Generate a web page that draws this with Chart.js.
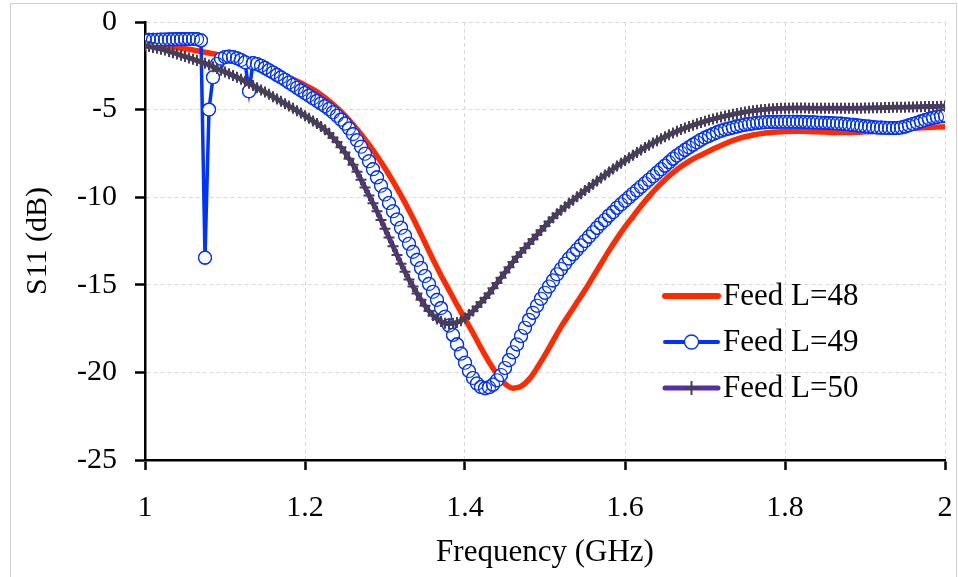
<!DOCTYPE html>
<html>
<head>
<meta charset="utf-8">
<script src="https://cdn.jsdelivr.net/npm/chart.js@4.4.1/dist/chart.umd.min.js"></script>
<style>
html,body{margin:0;padding:0;background:#fff;overflow:hidden}
#wrap{position:relative;width:958px;height:577px}
</style>
</head>
<body>
<div id="wrap"><canvas id="c" width="958" height="577"></canvas></div>
<script>
// ---- data ----
const freqFine = [
1,1.005,1.01,1.015,1.02,1.025,1.03,1.035,1.04,1.045,
1.05,1.055,1.06,1.065,1.07,1.075,1.08,1.085,1.09,1.095,
1.1,1.105,1.11,1.115,1.12,1.125,1.13,1.135,1.14,1.145,
1.15,1.155,1.16,1.165,1.17,1.175,1.18,1.185,1.19,1.195,
1.2,1.205,1.21,1.215,1.22,1.225,1.23,1.235,1.24,1.245,
1.25,1.255,1.26,1.265,1.27,1.275,1.28,1.285,1.29,1.295,
1.3,1.305,1.31,1.315,1.32,1.325,1.33,1.335,1.34,1.345,
1.35,1.355,1.36,1.365,1.37,1.375,1.38,1.385,1.39,1.395,
1.4,1.405,1.41,1.415,1.42,1.425,1.43,1.435,1.44,1.445,
1.45,1.455,1.46,1.465,1.47,1.475,1.48,1.485,1.49,1.495,
1.5,1.505,1.51,1.515,1.52,1.525,1.53,1.535,1.54,1.545,
1.55,1.555,1.56,1.565,1.57,1.575,1.58,1.585,1.59,1.595,
1.6,1.605,1.61,1.615,1.62,1.625,1.63,1.635,1.64,1.645,
1.65,1.655,1.66,1.665,1.67,1.675,1.68,1.685,1.69,1.695,
1.7,1.705,1.71,1.715,1.72,1.725,1.73,1.735,1.74,1.745,
1.75,1.755,1.76,1.765,1.77,1.775,1.78,1.785,1.79,1.795,
1.8,1.805,1.81,1.815,1.82,1.825,1.83,1.835,1.84,1.845,
1.85,1.855,1.86,1.865,1.87,1.875,1.88,1.885,1.89,1.895,
1.9,1.905,1.91,1.915,1.92,1.925,1.93,1.935,1.94,1.945,
1.95,1.955,1.96,1.965,1.97,1.975,1.98,1.985,1.99,1.995,
2];

const freqCoarse = [
1,1.01,1.02,1.03,1.04,1.05,1.06,1.07,1.08,1.09,
1.1,1.11,1.12,1.13,1.14,1.15,1.16,1.17,1.18,1.19,
1.2,1.21,1.22,1.23,1.24,1.25,1.26,1.27,1.28,1.29,
1.3,1.31,1.32,1.33,1.34,1.35,1.36,1.37,1.38,1.39,
1.4,1.41,1.42,1.43,1.44,1.45,1.46,1.47,1.48,1.49,
1.5,1.51,1.52,1.53,1.54,1.55,1.56,1.57,1.58,1.59,
1.6,1.61,1.62,1.63,1.64,1.65,1.66,1.67,1.68,1.69,
1.7,1.71,1.72,1.73,1.74,1.75,1.76,1.77,1.78,1.79,
1.8,1.81,1.82,1.83,1.84,1.85,1.86,1.87,1.88,1.89,
1.9,1.91,1.92,1.93,1.94,1.95,1.96,1.97,1.98,1.99,
2];

// Feed L=48 (on freqCoarse)
const s11L48 = [
-1.25,-1.3,-1.35,-1.4,-1.46,-1.52,-1.6,-1.68,-1.77,-1.86,
-1.96,-2.06,-2.17,-2.3,-2.44,-2.6,-2.78,-2.97,-3.17,-3.38,
-3.6,-3.85,-4.15,-4.5,-4.9,-5.35,-5.85,-6.4,-7.0,-7.65,
-8.35,-9.1,-9.9,-10.75,-11.65,-12.6,-13.55,-14.45,-15.3,-16.15,
-16.95,-17.75,-18.6,-19.4,-20.1,-20.65,-20.9,-20.8,-20.4,-19.75,
-19.0,-18.2,-17.4,-16.7,-16.0,-15.3,-14.55,-13.8,-13.05,-12.35,
-11.7,-11.1,-10.5,-9.95,-9.45,-9.0,-8.6,-8.25,-7.95,-7.7,
-7.48,-7.25,-7.05,-6.85,-6.68,-6.55,-6.45,-6.37,-6.32,-6.28,
-6.25,-6.24,-6.24,-6.25,-6.27,-6.28,-6.3,-6.3,-6.3,-6.29,
-6.27,-6.25,-6.22,-6.18,-6.14,-6.1,-6.07,-6.04,-6.02,-6.0,
-5.98];

// Feed L=49 (on freqFine)
const s11L49 = [
-1.02,-1.02,-1.01,-1.01,-1.0,-1.0,-0.99,-0.99,-0.98,-0.98,
-0.97,-0.97,-0.97,-0.98,-1.05,-13.45,-5.0,-3.15,-2.4,-2.1,
-2.0,-1.97,-2.0,-2.07,-2.17,-2.3,-3.95,-2.35,-2.4,-2.5,
-2.62,-2.75,-2.88,-3.02,-3.16,-3.3,-3.45,-3.6,-3.75,-3.9,
-4.05,-4.2,-4.35,-4.5,-4.65,-4.8,-4.97,-5.15,-5.35,-5.57,
-5.8,-6.08,-6.4,-6.75,-7.12,-7.52,-7.95,-8.4,-8.87,-9.35,
-9.85,-10.33,-10.8,-11.27,-11.74,-12.2,-12.66,-13.12,-13.58,-14.04,
-14.5,-14.95,-15.4,-15.86,-16.33,-16.82,-17.33,-17.86,-18.4,-18.93,
-19.45,-19.92,-20.32,-20.63,-20.83,-20.9,-20.85,-20.7,-20.45,-20.15,
-19.75,-19.3,-18.85,-18.4,-17.92,-17.45,-17.0,-16.6,-16.2,-15.8,
-15.45,-15.1,-14.75,-14.4,-14.1,-13.8,-13.5,-13.25,-13.0,-12.75,
-12.5,-12.25,-12.0,-11.75,-11.5,-11.3,-11.05,-10.85,-10.6,-10.4,
-10.2,-10.0,-9.8,-9.6,-9.4,-9.2,-9.0,-8.8,-8.6,-8.4,
-8.2,-8.0,-7.8,-7.62,-7.46,-7.3,-7.15,-7.0,-6.86,-6.72,
-6.6,-6.5,-6.4,-6.3,-6.21,-6.14,-6.08,-6.02,-5.96,-5.91,
-5.86,-5.82,-5.79,-5.76,-5.74,-5.72,-5.71,-5.7,-5.7,-5.69,
-5.69,-5.69,-5.69,-5.7,-5.7,-5.71,-5.72,-5.73,-5.74,-5.75,
-5.76,-5.77,-5.78,-5.79,-5.8,-5.82,-5.85,-5.87,-5.9,-5.92,
-5.95,-5.97,-6.0,-6.02,-6.03,-6.04,-6.05,-6.05,-6.05,-6.02,
-5.97,-5.9,-5.82,-5.75,-5.67,-5.6,-5.53,-5.47,-5.42,-5.38,
-5.35];

// Feed L=50 (on freqFine)
const s11L50 = [
-1.35,-1.4,-1.45,-1.5,-1.55,-1.6,-1.68,-1.75,-1.82,-1.9,
-1.97,-2.05,-2.12,-2.2,-2.28,-2.36,-2.45,-2.55,-2.65,-2.75,
-2.85,-2.95,-3.05,-3.15,-3.27,-3.38,-3.5,-3.62,-3.75,-3.88,
-4.0,-4.13,-4.26,-4.4,-4.53,-4.66,-4.8,-4.93,-5.06,-5.2,
-5.35,-5.5,-5.65,-5.8,-5.97,-6.15,-6.35,-6.6,-6.85,-7.15,
-7.45,-7.8,-8.15,-8.55,-9.0,-9.45,-9.9,-10.35,-10.8,-11.3,
-11.8,-12.3,-12.8,-13.3,-13.8,-14.25,-14.7,-15.1,-15.5,-15.85,
-16.2,-16.5,-16.75,-16.95,-17.1,-17.2,-17.22,-17.2,-17.15,-17.05,
-16.9,-16.7,-16.5,-16.25,-16.0,-15.75,-15.5,-15.2,-14.9,-14.6,
-14.3,-14.0,-13.7,-13.4,-13.15,-12.9,-12.65,-12.4,-12.15,-11.9,
-11.65,-11.4,-11.17,-10.95,-10.75,-10.55,-10.35,-10.17,-9.98,-9.8,
-9.62,-9.44,-9.26,-9.08,-8.9,-8.73,-8.56,-8.39,-8.22,-8.06,
-7.9,-7.75,-7.6,-7.45,-7.3,-7.16,-7.03,-6.9,-6.78,-6.66,
-6.55,-6.44,-6.34,-6.24,-6.14,-6.05,-5.97,-5.89,-5.81,-5.74,
-5.67,-5.6,-5.54,-5.48,-5.42,-5.37,-5.32,-5.27,-5.22,-5.18,
-5.14,-5.1,-5.07,-5.04,-5.01,-4.99,-4.97,-4.95,-4.94,-4.93,
-4.92,-4.92,-4.91,-4.91,-4.91,-4.91,-4.92,-4.92,-4.92,-4.93,
-4.93,-4.93,-4.93,-4.93,-4.93,-4.93,-4.93,-4.92,-4.92,-4.92,
-4.91,-4.91,-4.9,-4.9,-4.89,-4.88,-4.88,-4.87,-4.87,-4.86,
-4.86,-4.85,-4.85,-4.84,-4.84,-4.83,-4.83,-4.82,-4.82,-4.81,
-4.8];

const seriesLabels = ['Feed L=48', 'Feed L=49', 'Feed L=50'];
const xTicks = [1, 1.2, 1.4, 1.6, 1.8, 2];
const yTicks = [0, -5, -10, -15, -20, -25];
const xTitle = 'Frequency (GHz)';
const yTitle = 'S11 (dB)';

// ---- chart ----
const FONT = '"Liberation Serif", "Times New Roman", serif';
const FS = 30;
const FS_BIG = 31;
Chart.defaults.font.family = FONT;
Chart.defaults.color = '#000';

function pts(xs, ys) { return xs.map((x, i) => ({x: x, y: ys[i]})); }

const framePlugin = {
  id: 'frame',
  beforeDraw(chart) {
    const ctx = chart.ctx;
    ctx.save();
    ctx.fillStyle = '#fff';
    ctx.fillRect(0, 0, chart.width, chart.height);
    ctx.strokeStyle = '#d0d0d0';
    ctx.lineWidth = 1;
    ctx.strokeRect(10.5, 3.5, 946, 580);
    ctx.restore();
  }
};

const legendPlugin = {
  id: 'insideLegend',
  afterDraw(chart) {
    const ctx = chart.ctx;
    const x0 = 665, x1 = 718, tx = 723;
    const rows = [296, 342, 388];
    chart.data.datasets.forEach((d, i) => {
      if (d.legendSkip) return;
      const y = rows[i];
      ctx.save();
      ctx.lineCap = 'round';
      ctx.strokeStyle = d.legendColor || d.borderColor;
      ctx.lineWidth = d.legendWidth || d.borderWidth;
      ctx.beginPath(); ctx.moveTo(x0, y); ctx.lineTo(x1, y); ctx.stroke();
      const cx = (x0 + x1) / 2;
      if (d.pointStyle === 'circle' && d.pointRadius > 0) {
        ctx.beginPath(); ctx.arc(cx, y, 7, 0, Math.PI * 2);
        ctx.fillStyle = '#fff'; ctx.fill();
        ctx.lineWidth = 1.3; ctx.strokeStyle = d.pointBorderColor; ctx.stroke();
      } else if (d.pointStyle === 'cross' && d.pointRadius > 0) {
        ctx.lineCap = 'butt';
        ctx.lineWidth = 2; ctx.strokeStyle = d.pointBorderColor;
        ctx.beginPath();
        ctx.moveTo(cx, y - 7); ctx.lineTo(cx, y + 7);
        ctx.moveTo(cx - 7, y); ctx.lineTo(cx + 7, y);
        ctx.stroke();
      }
      ctx.fillStyle = '#000';
      ctx.font = FS_BIG + 'px ' + FONT;
      ctx.textBaseline = 'middle';
      ctx.textAlign = 'left';
      ctx.fillText(d.label, tx, y + 1);
      ctx.restore();
    });
  }
};

new Chart(document.getElementById('c'), {
  type: 'line',
  data: {
    datasets: [
      {
        label: seriesLabels[0],
        data: pts(freqCoarse, s11L48),
        borderColor: '#ff2a00',
        borderWidth: 5.5,
        pointRadius: 0,
        cubicInterpolationMode: 'monotone',
        legendWidth: 6,
        order: 3
      },
      {
        label: seriesLabels[1],
        data: pts(freqFine, s11L49),
        borderColor: '#0033ff',
        borderWidth: 3.5,
        pointStyle: 'circle',
        pointRadius: 6.5,
        pointBorderWidth: 1.1,
        pointBorderColor: '#0033ff',
        pointBackgroundColor: '#ffffff',
        tension: 0,
        legendWidth: 4,
        order: 2
      },
      {
        label: seriesLabels[2],
        data: pts(freqFine, s11L50),
        borderColor: '#5a2da0',
        borderWidth: 5,
        pointStyle: 'cross',
        pointRadius: 5.5,
        pointBorderWidth: 2,
        pointBorderColor: '#454050',
        tension: 0,
        legendWidth: 5,
        order: 0
      },
      {
        // ring outlines of Feed L=49 drawn again on top so every circle stays visible
        label: seriesLabels[1] + ' rings',
        data: pts(freqFine, s11L49),
        showLine: false,
        pointStyle: 'circle',
        pointRadius: 6.5,
        pointBorderWidth: 1.1,
        pointBorderColor: '#0033ff',
        pointBackgroundColor: 'rgba(0,0,0,0)',
        legendSkip: true,
        order: 1
      }
    ]
  },
  options: {
    responsive: false,
    animation: false,
    devicePixelRatio: 1,
    layout: { padding: { left: 0, right: 13, top: 22, bottom: 0 } },
    plugins: { legend: { display: false }, tooltip: { enabled: false } },
    scales: {
      x: {
        type: 'linear',
        min: 1, max: 2,
        afterBuildTicks(scale) { scale.ticks = xTicks.map(v => ({value: v})); },
        afterFit(scale) { scale.height = 117; scale.paddingLeft = 0; scale.paddingRight = 0; },
        ticks: {
          font: { size: FS }, color: '#000', padding: 20, maxRotation: 0,
          callback: v => String(v)
        },
        grid: { color: '#d9d9d9', lineWidth: 1, tickColor: '#000', tickWidth: 2.5, tickLength: 10 },
        border: { color: '#000', width: 2.5, dash: [4, 3] },
        title: { display: true, text: xTitle, font: { size: FS_BIG }, color: '#000', padding: { top: 6, bottom: 6 } }
      },
      y: {
        type: 'linear',
        min: -25, max: 0,
        afterBuildTicks(scale) { scale.ticks = yTicks.map(v => ({value: v})); },
        afterFit(scale) { scale.width = 145; scale.paddingTop = 0; scale.paddingBottom = 0; },
        ticks: { font: { size: FS }, color: '#000', padding: 18, callback: v => String(v) },
        grid: { color: '#d9d9d9', lineWidth: 1, tickColor: '#000', tickWidth: 2.5, tickLength: 10 },
        border: { color: '#000', width: 2.5, dash: [4, 3] },
        title: { display: true, text: yTitle, font: { size: FS }, color: '#000', padding: { top: 20, bottom: 20 } }
      }
    }
  },
  plugins: [framePlugin, legendPlugin]
});
</script>
</body>
</html>
